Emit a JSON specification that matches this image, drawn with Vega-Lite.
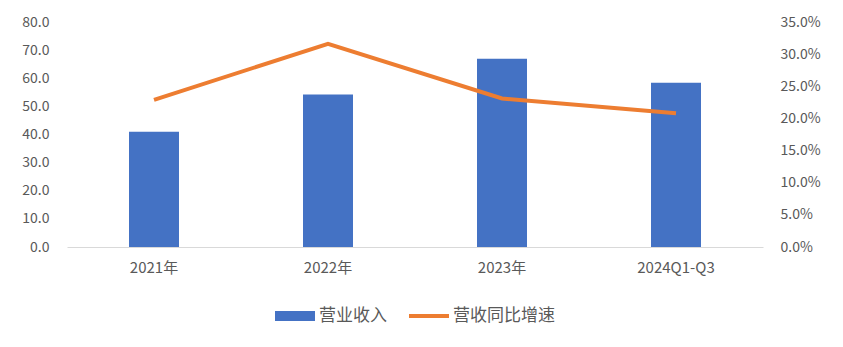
{
  "$schema": "https://vega.github.io/schema/vega-lite/v6.json",
  "width": 696,
  "height": 225,
  "autosize": {"type": "none"},
  "padding": {"left": 67, "top": 22, "right": 80, "bottom": 100},
  "background": "white",
  "config": {
    "view": {"stroke": null},
    "font": "Noto Sans CJK SC",
    "axis": {"labelFont": "Noto Sans CJK SC", "labelColor": "#595959", "labelFontSize": 14, "grid": false, "ticks": false, "title": null},
    "legend": {"layout": {"bottom": {"anchor": "middle"}}}
  },
  "data": {"values": [
    {"period": "2021年", "revenue": 41.0, "growth": 0.229},
    {"period": "2022年", "revenue": 54.2, "growth": 0.316},
    {"period": "2023年", "revenue": 66.9, "growth": 0.231},
    {"period": "2024Q1-Q3", "revenue": 58.4, "growth": 0.208}
  ]},
  "encoding": {
    "x": {"field": "period", "type": "nominal", "sort": null,
      "scale": {"paddingInner": 0, "paddingOuter": 0},
      "axis": {"labelAngle": 0, "domainColor": "#d9d9d9", "domainWidth": 1, "labelPadding": 13, "labelFontSize": 15}}
  },
  "layer": [
    {
      "mark": {"type": "bar", "size": 50},
      "encoding": {
        "y": {"field": "revenue", "type": "quantitative", "scale": {"domain": [0, 80]},
          "axis": {"values": [0,10,20,30,40,50,60,70,80], "format": ".1f", "domain": false, "labelPadding": 18}},
        "color": {"datum": "营业收入", "type": "nominal",
          "scale": {"domain": ["营业收入", "营收同比增速"], "range": ["#4472C4", "#ED7D31"]},
          "legend": {
            "orient": "bottom", "direction": "horizontal", "title": null,
            "offset": 21, "symbolSize": 1600, "labelFontSize": 17, "labelColor": "#595959",
            "labelFont": "Noto Sans CJK SC", "columnPadding": 22, "labelOffset": 4,
            "encode": {"symbols": {"update": {
              "shape": {"signal": "datum.label === '营业收入' ? 'M-1,-0.25H1V0.25H-1Z' : 'M-1,-0.1H1V0.1H-1Z'"},
              "strokeWidth": {"value": 0}
            }}}
          }}
      }
    },
    {
      "mark": {"type": "line", "strokeWidth": 4},
      "encoding": {
        "y": {"field": "growth", "type": "quantitative", "scale": {"domain": [0, 0.35]},
          "axis": {"orient": "right", "values": [0,0.05,0.1,0.15,0.2,0.25,0.3,0.35], "format": ".1%", "domain": false, "labelPadding": 17}},
        "color": {"datum": "营收同比增速", "type": "nominal"}
      }
    }
  ],
  "resolve": {"scale": {"y": "independent"}}
}
